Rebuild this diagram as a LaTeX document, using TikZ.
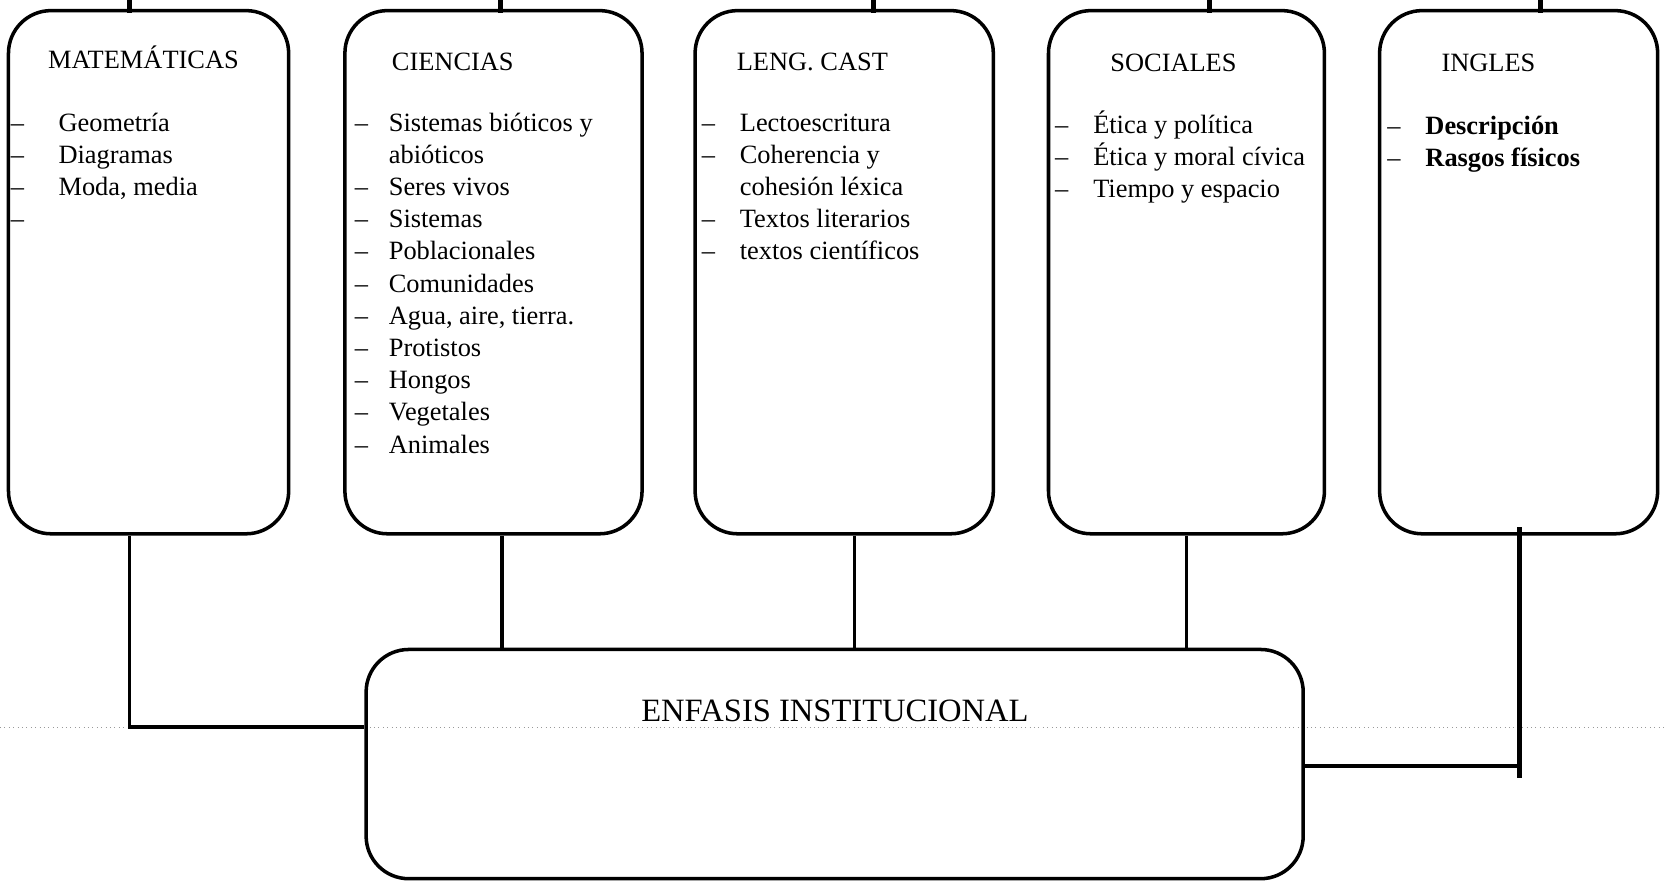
\documentclass[tikz,border=0pt]{standalone}
\usepackage{fontspec}
\setmainfont{Liberation Serif}
\usepackage{tikz}
\usetikzlibrary{calc,fit}
\newcommand{\itemfont}{\fontsize{15}{18.3}\selectfont}
\newcommand{\headfont}{\fontsize{15}{18}\selectfont}
\tikzset{
  subj/.style={rectangle,draw=black,line width=2pt,rounded corners=0.85cm,inner sep=0pt},
  tick/.style={line width=2.8pt,black},
  link/.style={line width=2pt,black},
  head/.style={anchor=base west,inner sep=0pt,font=\headfont},
  lst/.style={anchor=north west,inner sep=0pt,font=\itemfont},
  scan/.style={dotted,line width=0.5pt,black!40},
}

\begin{document}
\begin{tikzpicture}[x=0.0212cm,y=-0.0212cm]
  \useasboundingbox (0,0) rectangle (1568,831);
  \coordinate (scanl) at (0,685); \coordinate (scanr) at (1568,685);
  \draw[scan] (scanl) -- (scanr);
  \foreach \nm/\l/\r/\tx in {mat/8/272/122, cie/325/605/472, len/655/936/823, soc/988/1248/1140, ing/1300/1562/1452}{
    \coordinate (\nm-a) at (\l,10); \coordinate (\nm-b) at (\r,503);
    \node[subj,fit=(\nm-a)(\nm-b)] (\nm) {};
    \coordinate (\nm-t) at (\tx,0);
    \draw[tick] (\nm-t) -- ($(\nm-t |- \nm.north)+(0,4)$);
  }
  \coordinate (enf-a) at (345,612); \coordinate (enf-b) at (1228,828);
  \node[subj,fit=(enf-a)(enf-b)] (enf) {};
  \node[anchor=base west,inner sep=0pt,font=\fontsize{18.5}{22}\selectfont] (enftxt) at (604,680) {ENFASIS INSTITUCIONAL};

  \node[head] (math) at (45,65) {MATEMÁTICAS};
  \node[head] (cieh) at (369,66) {CIENCIAS};
  \node[head] (lenh) at (694,66) {LENG. CAST};
  \node[head] (soch) at (1046,67) {SOCIALES};
  \node[head] (ingh) at (1358,67) {INGLES};

  \node[lst] (matl) at (10,102) {\begin{tabular}{@{}p{0.95cm}@{}l@{}}
    –&Geometría\\ –&Diagramas\\ –&Moda, media\\ –&\end{tabular}};
  \node[lst] (ciel) at (334,102) {\begin{tabular}{@{}p{0.68cm}@{}l@{}}
    –&Sistemas bióticos y\\ &abióticos\\ –&Seres vivos\\ –&Sistemas\\ –&Poblacionales\\
    –&Comunidades\\ –&Agua, aire, tierra.\\ –&Protistos\\ –&Hongos\\ –&Vegetales\\ –&Animales\end{tabular}};
  \node[lst] (lenl) at (661,102) {\begin{tabular}{@{}p{0.76cm}@{}l@{}}
    –&Lectoescritura\\ –&Coherencia y\\ &cohesión léxica\\ –&Textos literarios\\ –&textos científicos\end{tabular}};
  \node[lst] (socl) at (994,104) {\begin{tabular}{@{}p{0.76cm}@{}l@{}}
    –&Ética y política\\ –&Ética y moral cívica\\ –&Tiempo y espacio\end{tabular}};
  \node[lst] (ingl) at (1307,105) {\begin{tabular}{@{}p{0.76cm}@{}l@{}}
    –&\textbf{Descripción}\\ –&\textbf{Rasgos físicos}\end{tabular}};

  \coordinate (mat-c) at (122,685);
  \draw[link] (mat.south -| mat-c) -- (mat-c) -- (mat-c -| enf.west);
  \foreach \nm/\cx in {cie/473, len/805, soc/1118}{
    \coordinate (\nm-c) at (\cx,0);
    \draw[link] (\nm.south -| \nm-c) -- (\nm-c |- enf.north);
  }
  \coordinate (ing-c) at (1432,722);
  \draw[link] (enf.east |- ing-c) -- (ing-c);
  \draw[line width=2.6pt] ($(ing.south -| ing-c)+(0,-8)$) -- ($(ing-c)+(0,11)$);
\end{tikzpicture}
\end{document}
